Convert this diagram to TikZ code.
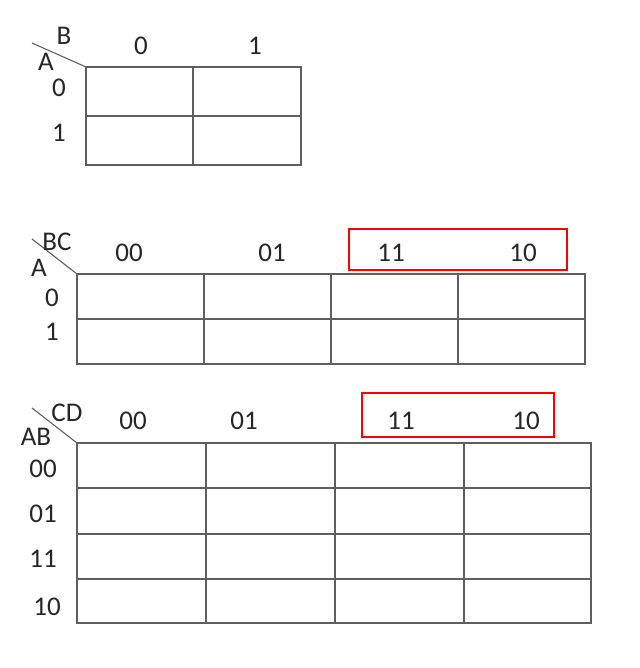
\documentclass[tikz,border=0pt]{standalone}
\usepackage{fontspec}
\setmainfont{Carlito}
\usepackage{xcolor}
\definecolor{grid-gray}{HTML}{5E5E5E}
\definecolor{text-gray}{HTML}{262626}
\definecolor{mark-red}{HTML}{FF0000}
\usepackage{tikz}
\tikzset{lbl/.style = {text=text-gray, inner sep=0pt, anchor=center}}
\tikzset{kgrid/.style = {draw=grid-gray, line width=1.4pt}}
\tikzset{slash/.style = {draw=grid-gray, line width=1.1pt}}
\tikzset{pick/.style = {draw=mark-red, line width=2.4pt}}

\begin{document}
\begin{tikzpicture}[x=1pt, y=-1pt,
  font=\fontsize{27}{30}\selectfont
]
\useasboundingbox (0,0) rectangle (639,668);

% two variables
\coordinate (k1-tip) at (32,43);
\coordinate (k1-nw) at (86,67);
\coordinate (k1-se) at (301,165);
\draw[kgrid] (k1-nw) rectangle (k1-se);
\draw[kgrid] (86,116) -- (301,116);
\draw[kgrid] (193,67) -- (193,165);
\draw[slash] (k1-tip) -- (k1-nw);
\node[lbl] (k1-b) at (64,36) {B};
\node[lbl] (k1-a) at (46,62) {A};
\node[lbl] (k1-c0) at (141,46) {0};
\node[lbl] (k1-c1) at (255,46) {1};
\node[lbl] (k1-r0) at (59,88) {0};
\node[lbl] (k1-r1) at (59,133) {1};

% three variables
\coordinate (k2-tip) at (32,239);
\coordinate (k2-nw) at (77,274);
\coordinate (k2-se) at (585,364);
\draw[kgrid] (k2-nw) rectangle (k2-se);
\draw[kgrid] (77,319) -- (585,319);
\draw[kgrid] (204,274) -- (204,364);
\draw[kgrid] (331,274) -- (331,364);
\draw[kgrid] (458,274) -- (458,364);
\draw[slash] (k2-tip) -- (k2-nw);
\node[lbl] (k2-bc) at (57,242) {BC};
\node[lbl] (k2-a) at (39,268) {A};
\node[lbl] (k2-c00) at (129,253) {00};
\node[lbl] (k2-c01) at (272,253) {01};
\node[lbl] (k2-c11) at (391,253) {11};
\node[lbl] (k2-c10) at (523,253) {10};
\node[lbl] (k2-r0) at (52,298) {0};
\node[lbl] (k2-r1) at (52,332) {1};
\draw[pick] (349,229) rectangle (567,270);

% four variables
\coordinate (k3-tip) at (32,408);
\coordinate (k3-nw) at (77,443);
\coordinate (k3-se) at (591,623);
\draw[kgrid] (k3-nw) rectangle (k3-se);
\draw[kgrid] (77,488) -- (591,488);
\draw[kgrid] (77,534) -- (591,534);
\draw[kgrid] (77,579) -- (591,579);
\draw[kgrid] (206,443) -- (206,623);
\draw[kgrid] (335,443) -- (335,623);
\draw[kgrid] (464,443) -- (464,623);
\draw[slash] (k3-tip) -- (k3-nw);
\node[lbl] (k3-cd) at (67,413) {CD};
\node[lbl] (k3-ab) at (36,437) {AB};
\node[lbl] (k3-c00) at (133,421) {00};
\node[lbl] (k3-c01) at (244,421) {01};
\node[lbl] (k3-c11) at (401,421) {11};
\node[lbl] (k3-c10) at (526,421) {10};
\node[lbl] (k3-r00) at (43,469) {00};
\node[lbl] (k3-r01) at (43,514) {01};
\node[lbl] (k3-r11) at (43,559) {11};
\node[lbl] (k3-r10) at (47,607) {10};
\draw[pick] (362,393) rectangle (554,437);

\end{tikzpicture}
\end{document}
